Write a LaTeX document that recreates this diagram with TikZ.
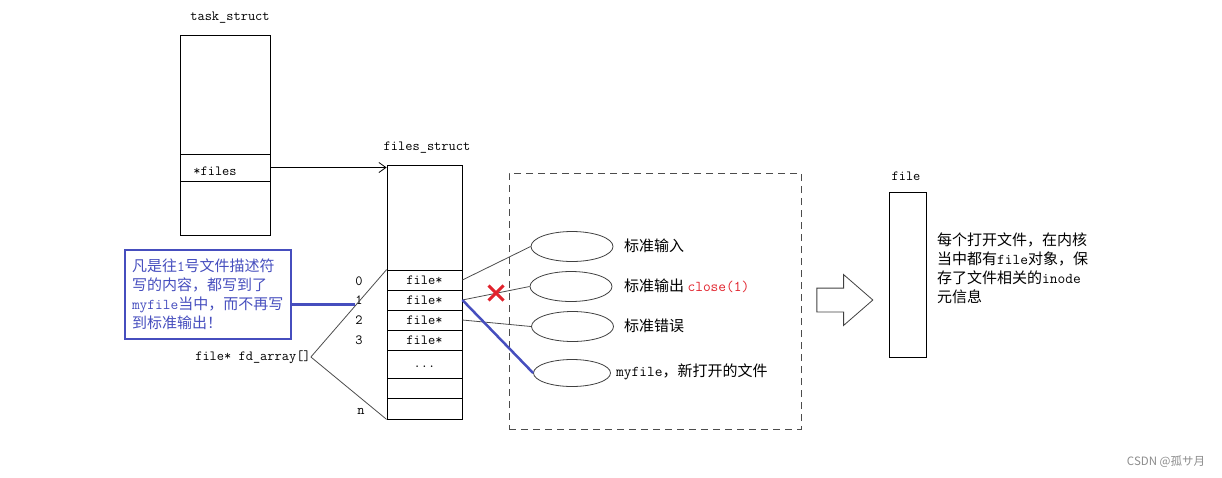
\documentclass[tikz,border=0pt]{standalone}
\usepackage{fontspec}
\newfontfamily\cjk{Noto Sans CJK SC}
\usetikzlibrary{arrows.meta,shapes.geometric,shapes.arrows,shapes.misc}
\definecolor{noteblue}{RGB}{70,78,190}
\definecolor{cutred}{RGB}{225,35,45}
\newcommand\cd[1]{{\ttfamily\fontsize{15}{19}\selectfont #1}}
\tikzset{
  blk/.style={draw, line width=.8pt, inner sep=0pt},
  slot/.style={blk, minimum width=75, minimum height=20, font=\ttfamily\fontsize{14}{16}\selectfont},
  code/.style={inner sep=0pt, font=\ttfamily\fontsize{14}{16}\selectfont},
  zh/.style={inner sep=0pt, font=\cjk\fontsize{15}{19}\selectfont},
  fileobj/.style={draw=black!75, ellipse, inner sep=0pt, minimum width=82, minimum height=30, line width=.8pt},
  link/.style={draw=black!70, line width=.8pt}
}

\begin{document}
\begin{tikzpicture}[x=1pt, y=-1pt]
\useasboundingbox (0,0) rectangle (1222,477);
% task_struct
\node[code] (tasklbl) at (230,18) {task\_struct};
\node[blk, minimum width=90, minimum height=200] (task) at (225,135) {};
\node[blk, minimum width=90, minimum height=27] (pfiles) at (225,167.5) {};
\node[code] at (215,171) {*files};
% files_struct
\node[code] (fslbl) at (427,148) {files\_struct};
\node[blk, minimum width=75, minimum height=254] (fs) at (424.5,292) {};
\foreach \i in {0,...,3}
  \node[slot] (fd\i) at (424.5,{280+20*\i}) {file*};
\node[slot, minimum height=28] (fd4) at (424.5,364) {};
\node[code] (dots) at (424.5,367) {...};
\node[slot] (fd5) at (424.5,388) {};
\node[slot, minimum height=21] (fdn) at (424.5,408.5) {};
\draw[-{Straight Barb[length=7pt, width=10pt]}, line width=.8pt] (pfiles.east) -- (pfiles.east -| fs.west);
% indices
\foreach \i/\y in {0/281,1/300,2/320,3/340}
  \node[code] (idx\i) at (359,\y) {\i};
\node[code] (idxn) at (361,411) {n};
\node[code] (fdarr) at (253,357) {file* fd\_array[]};
\draw[link] (fdarr.east) -- (fd0.north west);
\draw[link] (fdarr.east) -- (fdn.south west);
% note
\node[zh, draw=noteblue, line width=2.5pt, text=noteblue, minimum width=166, minimum height=89, text width=152, align=left] (note) at (208,294.5)
  {凡是往\cd{1}号文件描述符\\写的内容，都写到了\\\cd{myfile}当中，而不再写\\到标准输出！};
\draw[noteblue, line width=2.5pt] (note.east |- idx1.south west) -- (idx1.south west);
% open files
\node[draw=black!70, dash pattern=on 7pt off 5pt, line width=.8pt, inner sep=0pt, minimum width=292, minimum height=256] (grp) at (655,301) {};
\node[fileobj] (stdin) at (572,246.5) {};
\node[fileobj] (stdout) at (571,286.5) {};
\node[fileobj] (stderr) at (572.5,326.5) {};
\node[fileobj, minimum width=77, minimum height=27] (myf) at (572,373) {};
\node[zh, anchor=west] at (624,246) {标准输入};
\node[zh, anchor=west] at (624,286) {标准输出 {\color{cutred}\cd{close(1)}}};
\node[zh, anchor=west] at (624,326) {标准错误};
\node[zh, anchor=west] at (616,372) {\cd{myfile}，新打开的文件};
\draw[link] (fd0.east) -- (stdin.west);
\draw[link] (fd1.east) -- (stdout.west);
\draw[link] (fd2.east) -- (stderr.west);
\draw[noteblue, line width=2.5pt] (fd1.east) -- (myf.west);
\node[cross out, draw=cutred, line width=3pt, minimum size=12, inner sep=0pt] (cut) at (496,293) {};
% file object
\node[single arrow, draw=black!75, line width=.8pt, inner sep=11.5pt, minimum height=56, single arrow head extend=13.5pt, single arrow tip angle=82] (flow) at (838,300) {};
\node[code] (filelbl) at (906,176) {file};
\node[blk, minimum width=37, minimum height=165] (fobj) at (907.5,274.5) {};
\node[zh, anchor=west, align=left] (desc) at (937,268.5)
  {每个打开文件，在内核\\当中都有\cd{file}对象，保\\存了文件相关的\cd{inode}\\元信息};
\node[inner sep=0pt, font=\cjk\fontsize{11.5}{14}\selectfont, text=black!45] (mark) at (1166,462) {CSDN @孤サ月};
\end{tikzpicture}
\end{document}
